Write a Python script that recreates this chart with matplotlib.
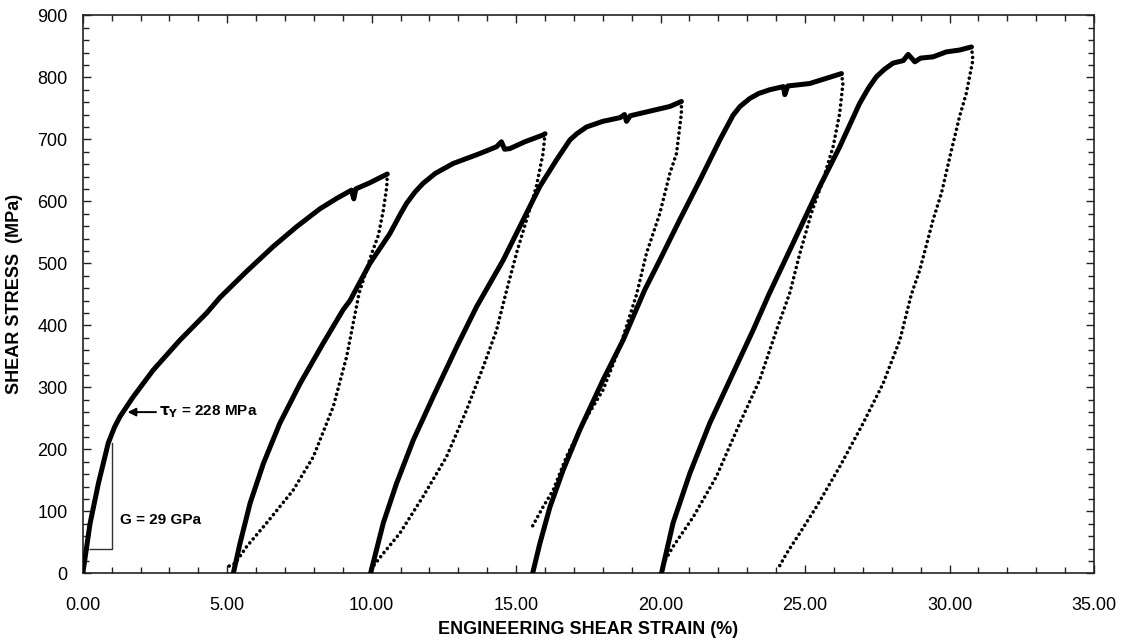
from __future__ import annotations

import matplotlib

matplotlib.use("Agg")

import matplotlib.pyplot as plt
from matplotlib.ticker import FormatStrFormatter, MultipleLocator

plt.rcParams["font.family"] = ["Liberation Sans", "DejaVu Sans"]
plt.rcParams["mathtext.default"] = "bf"

# loading branches (strain %, stress MPa)
load1_x = [0.00, 0.25, 0.54, 0.88, 1.10, 1.29, 1.75, 2.44, 3.36, 4.29, 4.75, 5.67, 6.59, 7.40,
           8.21, 8.80, 9.30, 9.38, 9.45, 9.94, 10.28, 10.54]
load1_y = [0, 80, 145, 210, 236, 253, 285, 328, 376, 420, 445, 487, 527, 559,
           588, 605, 618, 604, 620, 630, 638, 644]

load2_x = [5.21, 5.44, 5.79, 6.25, 6.82, 7.52, 8.32, 9.01, 9.25, 9.94, 10.63, 11.00, 11.21, 11.50,
           11.78, 12.20, 12.82, 13.74, 14.32, 14.49, 14.60, 14.78, 15.30, 15.93, 16.00]
load2_y = [0, 48, 113, 177, 242, 306, 371, 425, 440, 500, 548, 580, 597, 615,
           629, 645, 661, 677, 688, 696, 684, 685, 696, 707, 709]

load3_x = [9.96, 10.40, 10.86, 11.44, 12.13, 12.94, 13.63, 14.55, 15.36, 15.82, 16.40, 16.86,
           17.10, 17.44, 18.00, 18.60, 18.75, 18.82, 18.95, 20.32, 20.72]
load3_y = [0, 81, 145, 215, 285, 365, 430, 505, 581, 624, 667, 699,
           709, 720, 729, 735, 740, 729, 738, 753, 761]

load4_x = [15.57, 15.82, 16.17, 16.63, 17.20, 18.01, 18.70, 19.45, 19.97, 20.66, 21.36, 22.05,
           22.51, 22.75, 23.09, 23.40, 23.78, 24.25, 24.30, 24.40, 25.16, 26.26]
load4_y = [0, 48, 107, 167, 231, 312, 376, 457, 505, 570, 634, 699,
           739, 753, 766, 774, 780, 785, 772, 786, 790, 806]

load5_x = [20.03, 20.43, 21.01, 21.70, 22.51, 23.20, 23.75, 24.58, 25.51, 26.20, 26.89, 27.20,
           27.47, 27.75, 28.05, 28.40, 28.57, 28.80, 29.00, 29.43, 29.89, 30.35, 30.76]
load5_y = [0, 81, 161, 242, 323, 392, 450, 532, 624, 688, 758, 783,
           801, 813, 823, 827, 837, 825, 831, 833, 841, 844, 849]

# unloading branches
unload1_x = [10.54, 10.52, 10.40, 10.23, 10.00, 9.56, 9.13, 8.67, 7.98, 7.28, 6.36, 5.67, 5.27, 5.03]
unload1_y = [644, 623, 585, 545, 516, 451, 349, 269, 188, 134, 81, 43, 16, 11]

unload2_x = [16.00, 15.93, 15.70, 15.36, 15.01, 14.64, 14.32, 13.86, 13.28, 12.59, 11.78, 10.98,
             10.40, 9.94]
unload2_y = [709, 677, 624, 570, 516, 451, 392, 333, 263, 188, 124, 65, 32, 5]

unload3_x = [20.72, 20.72, 20.55, 20.32, 19.97, 19.51, 19.17, 18.59, 18.01, 17.32, 16.74, 16.28,
             15.93, 15.53]
unload3_y = [761, 742, 677, 645, 580, 516, 450, 365, 296, 242, 188, 134, 107, 73]

unload4_x = [26.26, 26.31, 26.20, 25.97, 25.62, 25.22, 24.82, 24.47, 24.01, 23.43, 22.74, 21.93,
             21.13, 20.43, 20.03]
unload4_y = [806, 790, 742, 688, 634, 581, 516, 452, 392, 312, 242, 156, 91, 43, 11]

unload5_x = [30.76, 30.81, 30.58, 30.35, 30.07, 29.72, 29.43, 28.97, 28.68, 28.28, 27.70, 27.01,
             26.20, 25.39, 24.82, 24.36, 24.07]
unload5_y = [849, 828, 774, 737, 683, 613, 570, 489, 450, 376, 306, 242, 172, 107, 65, 32, 8]

# shear modulus slope triangle
slope_x = [0.25, 1.01, 1.01]
slope_y = [39, 39, 210]

loading = [(load1_x, load1_y), (load2_x, load2_y), (load3_x, load3_y),
           (load4_x, load4_y), (load5_x, load5_y)]
unloading = [(unload1_x, unload1_y), (unload2_x, unload2_y), (unload3_x, unload3_y),
             (unload4_x, unload4_y), (unload5_x, unload5_y)]


def plot_shear_cycles(output: str = "out.png") -> None:
    fig = plt.figure(figsize=(11.22, 6.41), dpi=100)
    ax = fig.add_axes([0.0738, 0.1056, 0.9012, 0.8705])

    for xs, ys in loading:
        ax.plot(xs, ys, color="black", linewidth=3.6, solid_capstyle="round",
                solid_joinstyle="round", zorder=3)
    for xs, ys in unloading:
        ax.plot(xs, ys, color="black", linewidth=2.6, linestyle=(0, (0.01, 1.45)),
                dash_capstyle="round", zorder=3)

    ax.plot(slope_x, slope_y, color="#333333", linewidth=1.0, zorder=2)
    ax.text(1.29, 86, "G = 29 GPa", fontsize=11, fontweight="bold", va="center", ha="left")
    ax.annotate(r"$\tau_Y$ = 228 MPa", xy=(1.55, 260), xytext=(2.63, 260),
                fontsize=11, fontweight="bold", va="center", ha="left",
                arrowprops=dict(arrowstyle="-|>", color="black", lw=1.4,
                                mutation_scale=12, shrinkA=0, shrinkB=0))

    ax.set_xlim(0, 35)
    ax.set_ylim(0, 900)
    ax.xaxis.set_major_locator(MultipleLocator(5))
    ax.xaxis.set_minor_locator(MultipleLocator(1))
    ax.yaxis.set_major_locator(MultipleLocator(100))
    ax.yaxis.set_minor_locator(MultipleLocator(20))
    ax.xaxis.set_major_formatter(FormatStrFormatter("%.2f"))

    ax.tick_params(which="both", direction="in", top=True, right=True, width=1.0, color="#222222")
    ax.tick_params(which="major", length=6, labelsize=13)
    ax.tick_params(which="minor", length=4)
    ax.tick_params(axis="x", which="major", pad=17)
    ax.tick_params(axis="y", which="major", pad=11)
    for spine in ax.spines.values():
        spine.set_linewidth(1.2)
        spine.set_color("#222222")

    ax.set_xlabel("ENGINEERING SHEAR STRAIN (%)", fontsize=13, fontweight="bold", labelpad=5)
    ax.set_ylabel("SHEAR STRESS  (MPa)", fontsize=13, fontweight="bold", labelpad=10)

    fig.savefig(output, dpi=100)
    plt.close(fig)


if __name__ == "__main__":
    plot_shear_cycles()
